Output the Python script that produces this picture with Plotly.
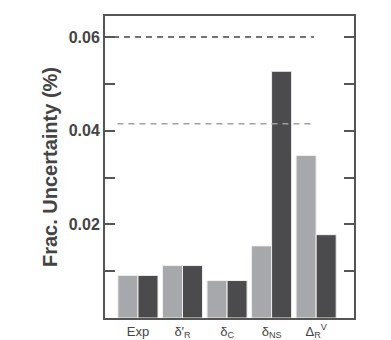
import plotly.graph_objects as go

categories = ["Exp", "δ′<sub>R</sub>", "δ<sub>C</sub>", "δ<sub>NS</sub>", "Δ<sub>R</sub><sup>V</sup>"]
light_vals = [0.0091, 0.0112, 0.0080, 0.0154, 0.0347]
dark_vals = [0.0091, 0.0112, 0.0080, 0.0527, 0.0178]
black_ref = 0.060
gray_ref = 0.0415
ytick_vals = [0.01, 0.02, 0.03, 0.04, 0.05, 0.06]
ytick_text = ["", "<b>0.02</b>", "", "<b>0.04</b>", "", "<b>0.06</b>"]

xpos = list(range(len(categories)))
axis_col = "#555555"

fig = go.Figure()
fig.add_trace(go.Bar(x=xpos, y=light_vals, marker=dict(color="#a7a8ab", line=dict(color="#f0f0f0", width=1)), showlegend=False))
fig.add_trace(go.Bar(x=xpos, y=dark_vals, marker=dict(color="#4b4b4d", line=dict(color="#f0f0f0", width=1)), showlegend=False))

fig.add_trace(go.Scatter(x=[-0.56, 3.95], y=[black_ref, black_ref], mode="lines",
                         line=dict(color="#444444", width=1.5, dash="6px,5px"), showlegend=False))
fig.add_trace(go.Scatter(x=[-0.46, 3.95], y=[gray_ref, gray_ref], mode="lines",
                         line=dict(color="#a0a0a0", width=1.5, dash="6px,5px"), showlegend=False))

fig.update_layout(
    width=391, height=340,
    margin=dict(l=105, r=37, t=16, b=22),
    paper_bgcolor="white", plot_bgcolor="white",
    barmode="group", bargap=0.1, bargroupgap=0,
    font=dict(family="Liberation Sans, Arial, sans-serif", color="#444444"),
)
fig.update_xaxes(
    range=[-0.74, 4.85], tickvals=xpos, ticktext=categories,
    showline=True, linecolor=axis_col, linewidth=2, mirror=True,
    ticks="", showgrid=False, zeroline=False, automargin=False,
    tickfont=dict(size=13, color="#444444"),
)
fig.update_yaxes(
    range=[0, 0.0645], tickvals=ytick_vals, ticktext=ytick_text,
    showline=True, linecolor=axis_col, linewidth=2, mirror="ticks",
    ticks="inside", ticklen=10, tickwidth=2, tickcolor=axis_col,
    showgrid=False, zeroline=False, automargin=False,
    tickfont=dict(size=16, color="#444444", family="Liberation Sans, Arial, sans-serif"),
    title=dict(text="<b>Frac. Uncertainty (%)</b>", font=dict(size=20, color="#444444"), standoff=6),
)

fig.write_html("out.html")
